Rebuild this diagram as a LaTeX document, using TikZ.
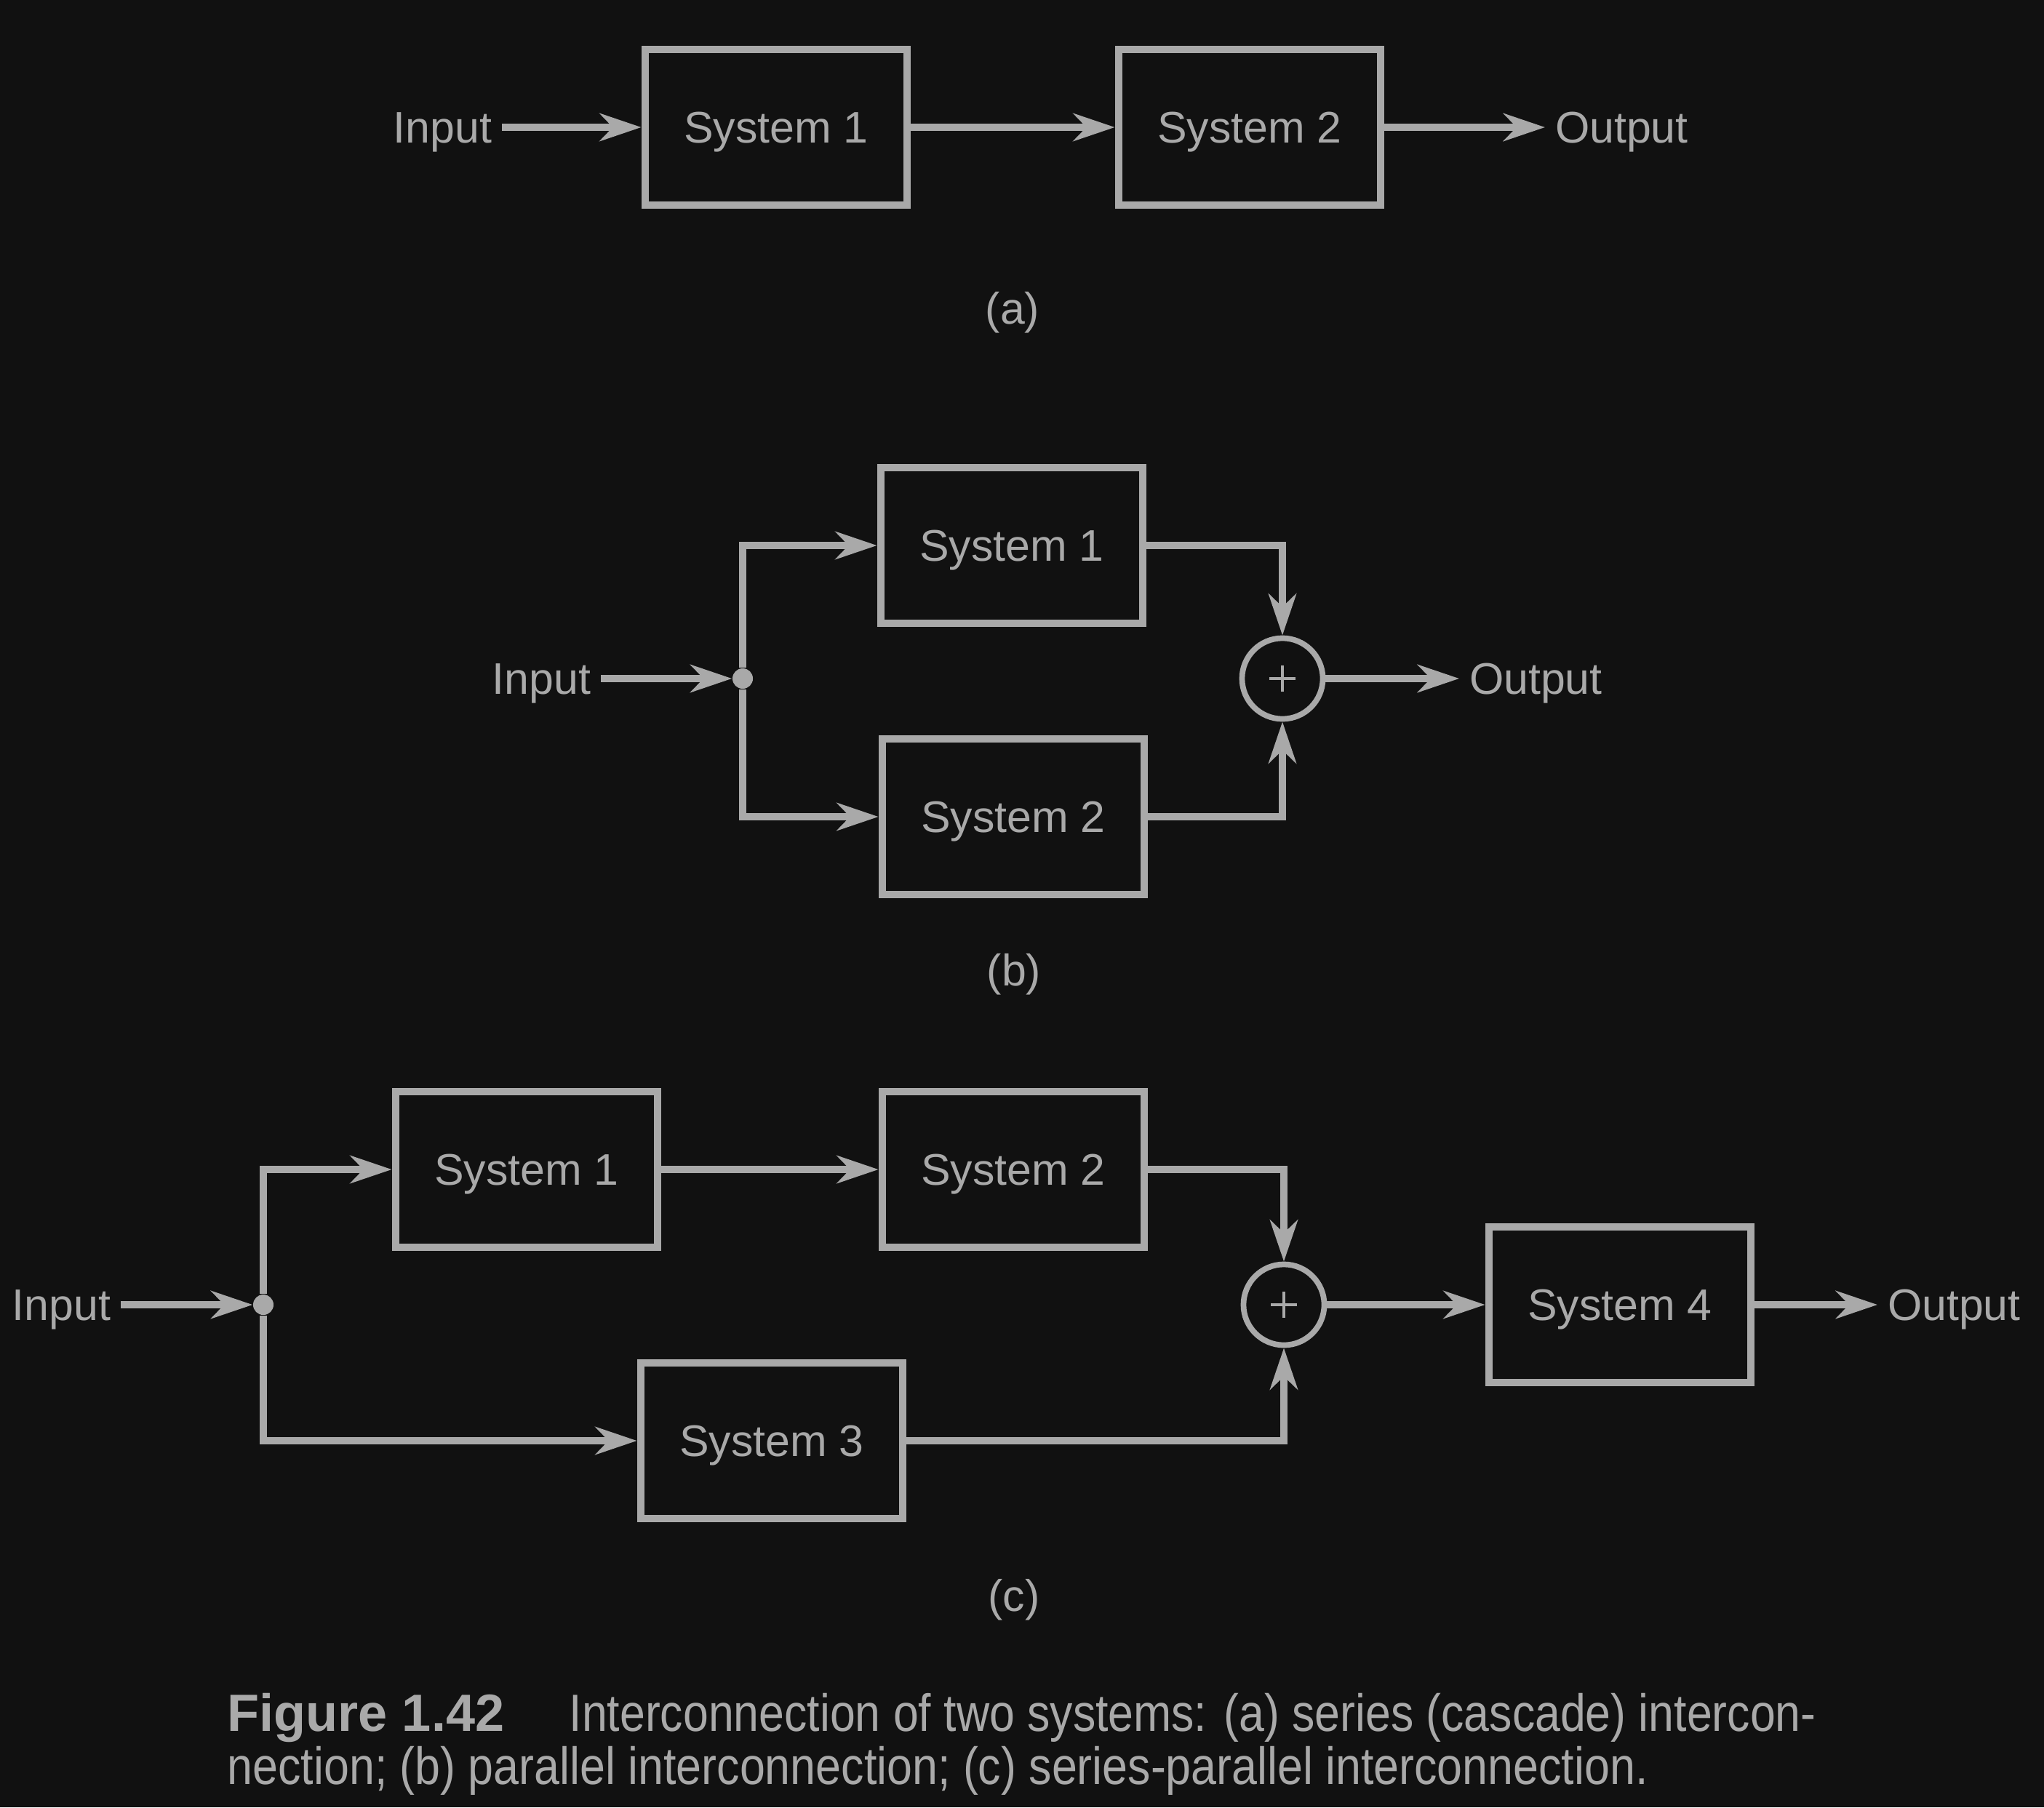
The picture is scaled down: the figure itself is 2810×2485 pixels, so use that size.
\documentclass[tikz,border=0pt]{standalone}
\usepackage{fontspec}
\setmainfont{Liberation Sans}
\usepackage{graphicx}
\usetikzlibrary{arrows.meta}
\definecolor{bg}{HTML}{111111}
\definecolor{fg}{HTML}{A9A9A9}
\begin{document}
\begin{tikzpicture}[x=0.01cm,y=-0.01cm,
  every node/.style={font=\fontsize{17.3}{20}\selectfont, text=fg},
  sysbox/.style={draw=fg, line width=3pt, minimum width=3.6cm, minimum height=2.14cm, inner sep=0pt, text height=12.4pt, text depth=0pt},
  lbl/.style={inner xsep=0.14cm, inner ysep=2pt, text height=12.4pt, text depth=0pt, outer sep=0pt},
  sumnode/.style={circle, draw=fg, line width=2.2pt, minimum size=1.11cm, inner sep=0pt},
  jdot/.style={circle, fill=fg, minimum size=0.28cm, inner sep=0pt},
  conn/.style={draw=fg, line width=3pt, -{Stealth[length=0.57cm,width=0.38cm,inset=0.18cm]}},
  plusmark/.style={draw=fg, line width=0.9pt},
  capfont/.style={font=\fontsize{20.5}{24}\selectfont, inner sep=0pt, anchor=base west},
]
\fill[bg] (0,0) rectangle (2810,2485);

% (a) series
\node[lbl, anchor=east] (ina) at (690,175) {Input};
\node[sysbox] (a1) at (1067,175) {System 1};
\node[sysbox] (a2) at (1718,175) {System 2};
\node[lbl, anchor=west] (outa) at (2124,175) {Output};
\draw[conn] (ina) -- (a1);
\draw[conn] (a1) -- (a2);
\draw[conn] (a2) -- (outa);
\node (la) at (1392,430) {(a)};

% (b) parallel
\node[lbl, anchor=east] (inb) at (826,933) {Input};
\node[jdot] (jb) at (1021,933) {};
\node[sysbox] (b1) at (1391,750) {System 1};
\node[sysbox] (b2) at (1393,1123) {System 2};
\node[sumnode] (sb) at (1763,933) {};
\draw[plusmark] (sb.center) +(-18,0) -- +(18,0) (sb.center) +(0,-18) -- +(0,18);
\node[lbl, anchor=west] (outb) at (2006,933) {Output};
\draw[conn] (inb) -- (jb);
\draw[conn] (jb) |- (b1);
\draw[conn] (jb) |- (b2);
\draw[conn] (b1) -| (sb);
\draw[conn] (b2) -| (sb);
\draw[conn] (sb) -- (outb);
\node (lb) at (1394,1340) {(b)};

% (c) series-parallel
\node[lbl, anchor=east] (inc) at (166,1794) {Input};
\node[jdot] (jc) at (362,1794) {};
\node[sysbox] (c1) at (724,1608) {System 1};
\node[sysbox] (c2) at (1393,1608) {System 2};
\node[sysbox] (c3) at (1061,1981) {System 3};
\node[sumnode] (sc) at (1765,1794) {};
\draw[plusmark] (sc.center) +(-18,0) -- +(18,0) (sc.center) +(0,-18) -- +(0,18);
\node[sysbox] (c4) at (2227,1794) {System 4};
\node[lbl, anchor=west] (outc) at (2581,1794) {Output};
\draw[conn] (inc) -- (jc);
\draw[conn] (jc) |- (c1);
\draw[conn] (jc) |- (c3);
\draw[conn] (c1) -- (c2);
\draw[conn] (c2) -| (sc);
\draw[conn] (c3) -| (sc);
\draw[conn] (sc) -- (c4);
\draw[conn] (c4) -- (outc);
\node (lc) at (1394,2200) {(c)};

% caption
\node[capfont] (capa) at (312,2380) {\bfseries Figure 1.42};
\node[capfont] (capb) at (782,2380) {\resizebox{17.13cm}{\height}{Interconnection of two systems: (a) series (cascade) intercon-}};
\node[capfont] (capc) at (312,2453) {\resizebox{19.52cm}{\height}{nection; (b) parallel interconnection; (c) series-parallel interconnection.}};
\end{tikzpicture}
\end{document}
